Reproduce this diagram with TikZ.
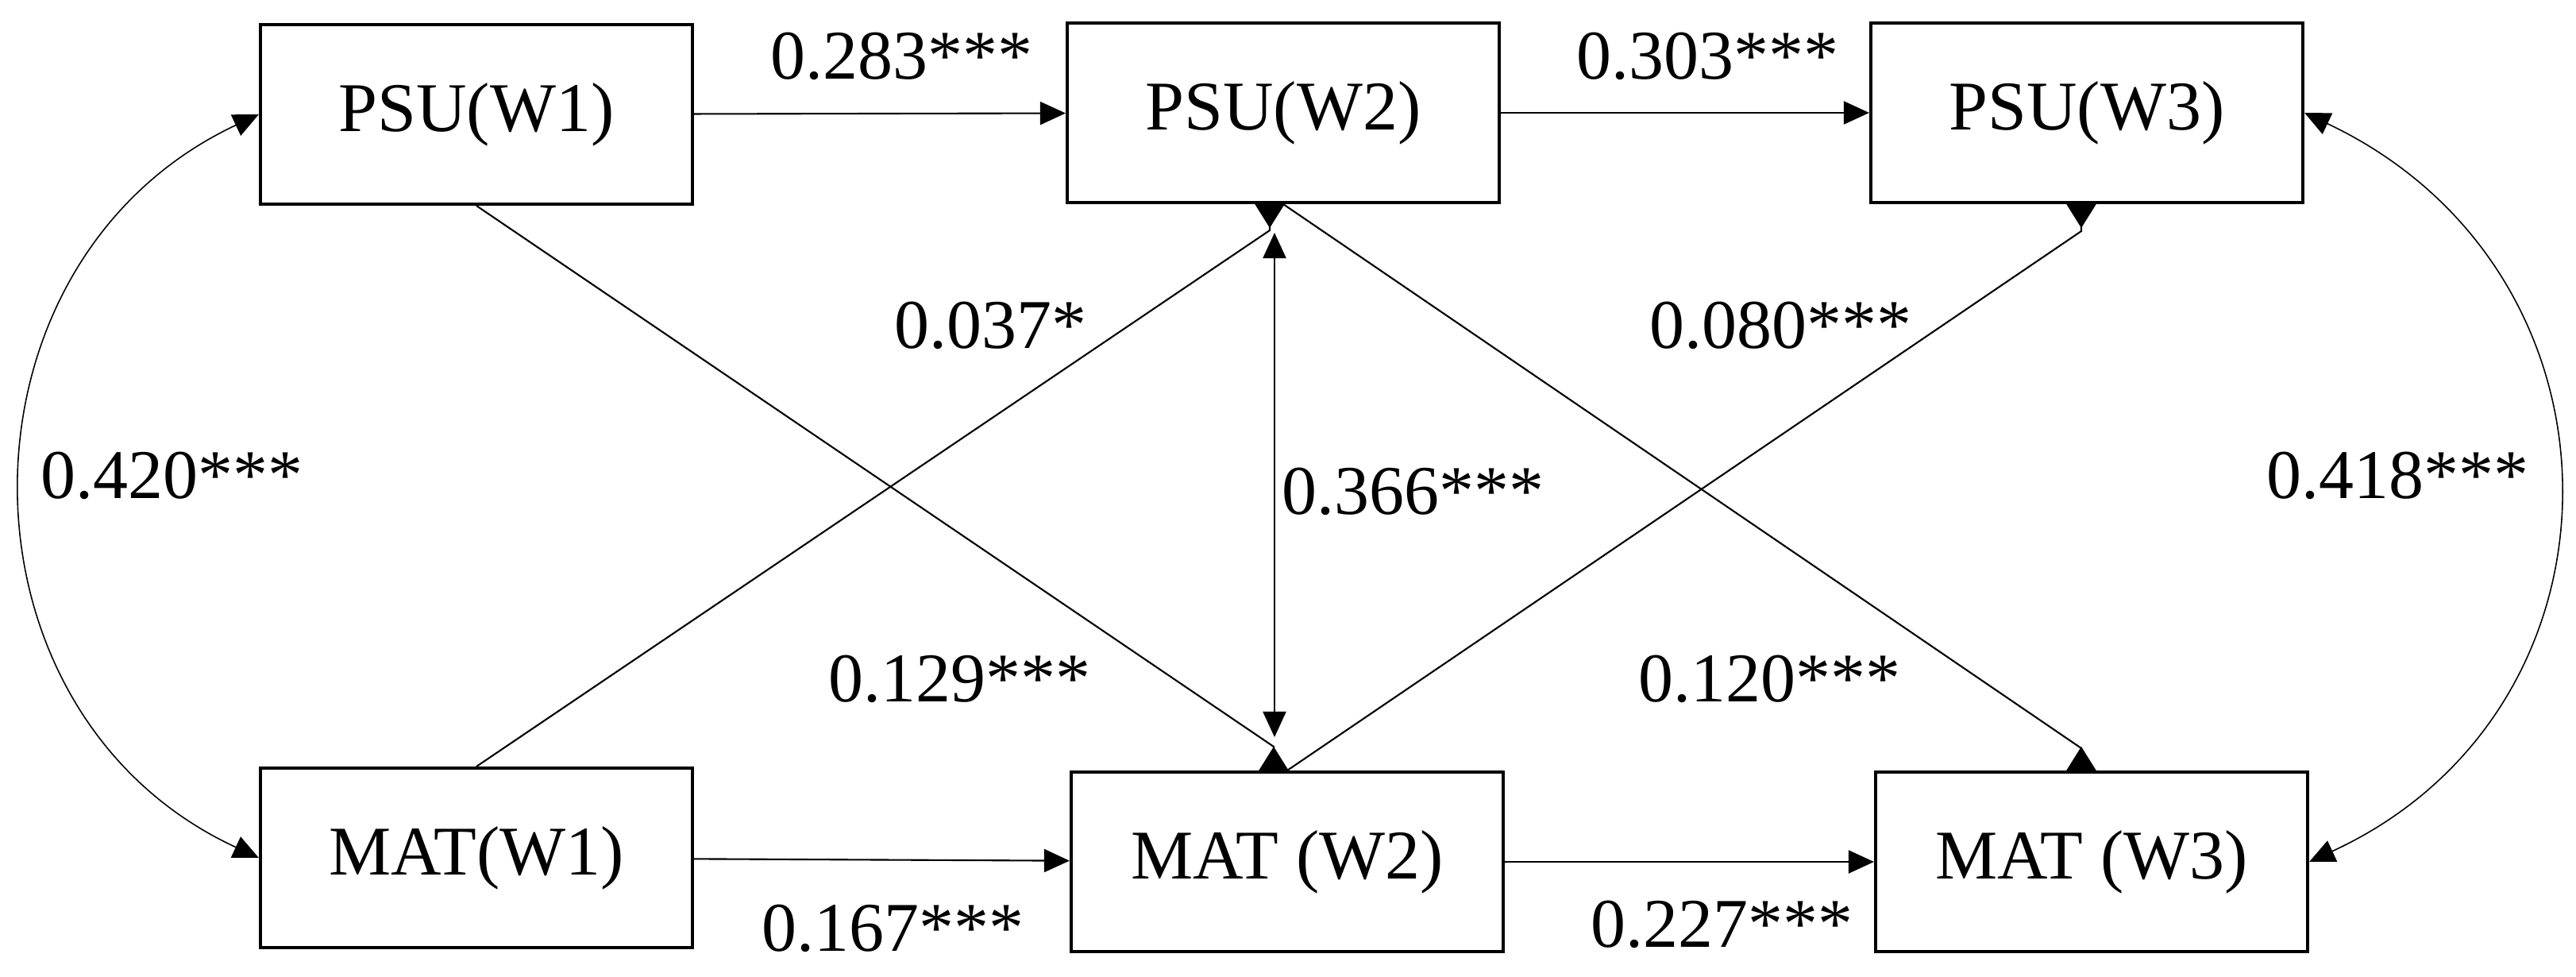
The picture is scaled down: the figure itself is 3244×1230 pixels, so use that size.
\documentclass[tikz,border=0pt]{standalone}
\usepackage{fontspec}
\setmainfont{Liberation Serif}
\usetikzlibrary{arrows.meta,calc}
\begin{document}
\begin{tikzpicture}[x=0.01cm,y=-0.01cm,
  box/.style={draw, line width=1.1pt, minimum width=5.44cm, minimum height=2.26cm,
    inner sep=0pt, font=\fontsize{25}{30}\selectfont},
  coef/.style={anchor=base west, inner sep=0pt, font=\fontsize{25}{30}\selectfont},
  conn/.style={line width=0.6pt},
  curv/.style={line width=0.45pt},
  tipA/.style={-{Triangle[length=0.32cm,width=0.29cm]}},
  tipB/.style={{Triangle[length=0.32cm,width=0.29cm]}-{Triangle[length=0.32cm,width=0.29cm]}},
  tipR/.style={-{Triangle[reversed,length=0.3cm,width=0.37cm]}}
]
\useasboundingbox (0,0) rectangle (3244,1230);

% boxes
\node[box] (psu1) at (600,144) {PSU(W1)};
\node[box] (psu2) at (1616,142) {PSU(W2)};
\node[box] (psu3) at (2628,142) {PSU(W3)};
\node[box] (mat1) at (600,1080) {MAT(W1)};
\node[box] (mat2) at (1621,1085) {MAT (W2)};
\node[box] (mat3) at (2634,1085) {MAT (W3)};

% horizontal paths
\draw[conn,tipA] (psu1) -- (psu2);
\draw[conn,tipA] (psu2) -- (psu3);
\draw[conn,tipA] (mat1) -- (mat2);
\draw[conn,tipA] (mat2) -- (mat3);

% cross-lagged paths
\draw[conn,tipR] (mat1.north) -- ($(psu2.south)+(-17,33)$) -- ($(psu2.south)+(-17,0)$);
\draw[conn,tipR] (psu1.south) -- ($(mat2.north)+(-17,-30)$) -- ($(mat2.north)+(-17,0)$);
\draw[conn,tipR] (psu2.south) -- ($(mat3.north)+(-13,-28)$) -- ($(mat3.north)+(-13,0)$);
\draw[conn,tipR] (mat2.north) -- ($(psu3.south)+(-7,34)$) -- ($(psu3.south)+(-7,0)$);

% W2 correlation
\draw[conn,tipB] ($(psu2.south)+(-11,36)$) -- ($(mat2.north)+(-16,-42)$);

% W1 and W3 correlations
\draw[curv,tipB] (psu1.west) .. controls (-70,330) and (-70,897) .. (mat1.west);
\draw[curv,tipB] (psu3.east) .. controls (3325,342) and (3325,893) .. (mat3.east);

% coefficients
\node[coef] (c1) at (970,100) {0.283***};
\node[coef] (c2) at (1985,100) {0.303***};
\node[coef] (c3) at (959,1197) {0.167***};
\node[coef] (c4) at (2003,1192) {0.227***};
\node[coef] (c5) at (1126,438) {0.037*};
\node[coef] (c6) at (2077,438) {0.080***};
\node[coef] (c7) at (1043,883) {0.129***};
\node[coef] (c8) at (2063,883) {0.120***};
\node[coef] (c9) at (1614,647) {0.366***};
\node[coef] (c10) at (51,627) {0.420***};
\node[coef] (c11) at (2854,627) {0.418***};
\end{tikzpicture}
\end{document}
